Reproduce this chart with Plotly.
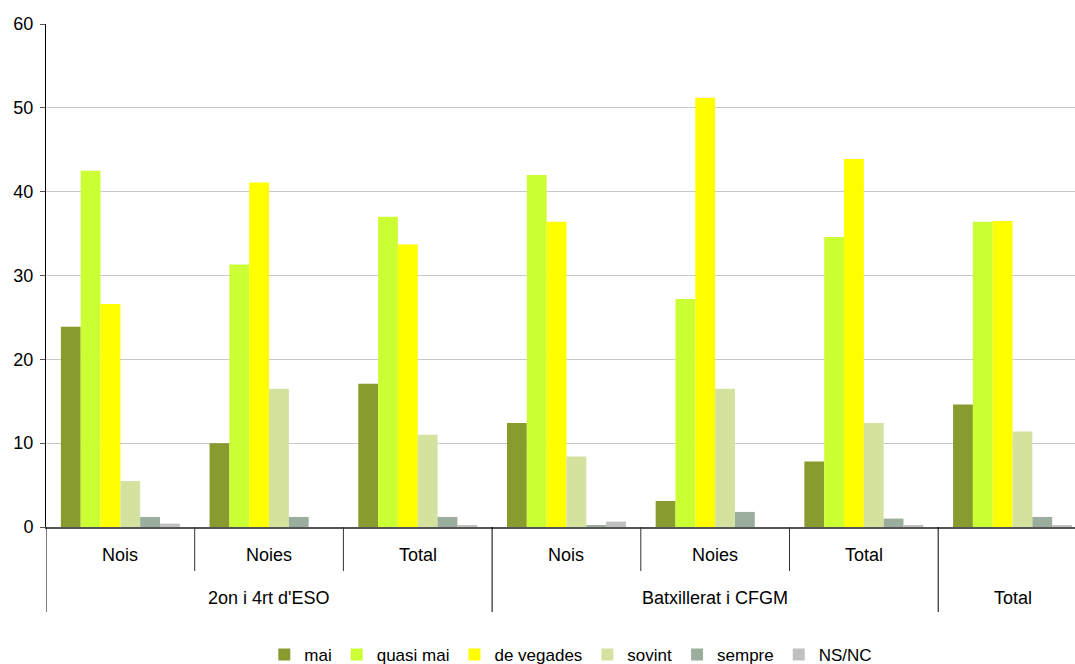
import plotly.graph_objects as go

groups = ["2on i 4rt d'ESO", "Batxillerat i CFGM", "Total"]
subcats = ["Nois", "Noies", "Total", "Nois", "Noies", "Total", ""]
group_of_cat = [0, 0, 0, 1, 1, 1, 2]

series_names = ["mai", "quasi mai", "de vegades", "sovint", "sempre", "NS/NC"]
mai        = [23.9, 10.0, 17.1, 12.4, 3.1, 7.8, 14.6]
quasi_mai  = [42.5, 31.3, 37.0, 42.0, 27.2, 34.6, 36.4]
de_vegades = [26.6, 41.1, 33.7, 36.4, 51.2, 43.9, 36.5]
sovint     = [5.5, 16.5, 11.0, 8.4, 16.5, 12.4, 11.4]
sempre     = [1.2, 1.2, 1.2, 0.2, 1.8, 1.0, 1.2]
ns_nc      = [0.4, 0.0, 0.2, 0.65, 0.0, 0.15, 0.15]
colors = ["#879B2F", "#CCFF33", "#FFFF00", "#D4E2A0", "#9BAE9E", "#C0C0C0"]

values = [mai, quasi_mai, de_vegades, sovint, sempre, ns_nc]
xpos = list(range(len(subcats)))

fig = go.Figure()
for name, vals, col in zip(series_names, values, colors):
    fig.add_trace(go.Bar(x=xpos, y=vals, name=name, marker=dict(color=col, line=dict(width=0))))

W, H = 1075, 664
left, top, bottom_px = 46, 24, 527
plot_h = bottom_px - top

def py(pix):
    return -(pix - bottom_px) / plot_h

FONT = "Liberation Sans, Arial"
FS = 18

shapes = []
for b in [-0.5, 2.5, 5.5]:
    shapes.append(dict(type="line", xref="x", yref="paper", x0=b, x1=b, y0=0, y1=py(612),
                       line=dict(color="#000000", width=1)))
for b in [0.5, 1.5, 3.5, 4.5]:
    shapes.append(dict(type="line", xref="x", yref="paper", x0=b, x1=b, y0=0, y1=py(571),
                       line=dict(color="#333333", width=1)))

annotations = []
for i, s in enumerate(subcats):
    if s:
        annotations.append(dict(x=i, y=py(555), xref="x", yref="paper", text=s, showarrow=False,
                                xanchor="center", yanchor="middle",
                                font=dict(family=FONT, size=FS, color="#000")))
for g, name in enumerate(groups):
    idx = [i for i, gg in enumerate(group_of_cat) if gg == g]
    cx = sum(idx) / len(idx)
    annotations.append(dict(x=cx, y=py(598), xref="x", yref="paper", text=name, showarrow=False,
                            xanchor="center", yanchor="middle",
                            font=dict(family=FONT, size=FS, color="#000")))

fig.update_layout(
    width=W, height=H,
    margin=dict(l=left, r=0, t=top, b=H - bottom_px, autoexpand=False),
    paper_bgcolor="white", plot_bgcolor="white",
    barmode="group", bargap=0.2, bargroupgap=0,
    font=dict(family=FONT, size=FS, color="#000"),
    xaxis=dict(range=[-0.5, 6.42], showticklabels=False, showgrid=False, zeroline=False,
               showline=True, linecolor="#555555", linewidth=2, ticks=""),
    yaxis=dict(range=[0, 60], dtick=10, showgrid=True, gridcolor="#C8C8C8", gridwidth=1,
               zeroline=False, showline=True, linecolor="#000000", linewidth=1,
               ticks="outside", ticklen=5,
               tickcolor="#555555", tickfont=dict(size=FS), ticklabelstandoff=3),
    legend=dict(orientation="h", x=0.51, xanchor="center", y=py(655), yanchor="middle",
                font=dict(size=17), itemwidth=30, tracegroupgap=0, bgcolor="rgba(0,0,0,0)"),
    shapes=shapes, annotations=annotations, showlegend=True,
)

fig.write_html("out.html", config={"displayModeBar": False},
               post_script="document.body.style.margin='0';document.body.style.overflow='hidden';")
